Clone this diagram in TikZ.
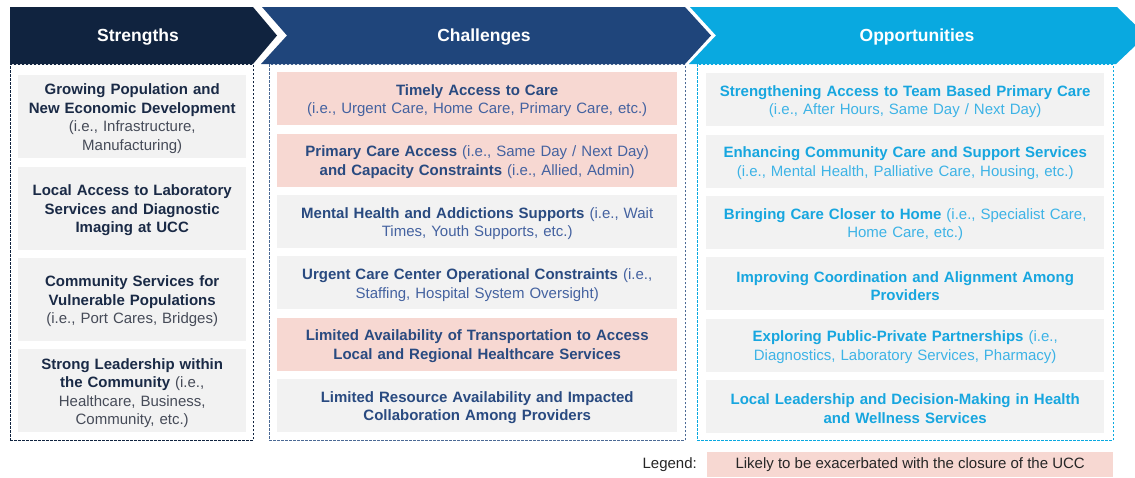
\documentclass[tikz,border=0pt]{standalone}
\usepackage{fontspec}
\setmainfont{Liberation Sans}
\usetikzlibrary{positioning}
\definecolor{navy}{HTML}{10233F}
\definecolor{royal}{HTML}{1F457B}
\definecolor{sky}{HTML}{09A9E0}
\definecolor{navytx}{HTML}{1A2A46}
\definecolor{royaltx}{HTML}{294A80}
\definecolor{royallt}{HTML}{4462A0}
\definecolor{skytx}{HTML}{17A6DF}
\definecolor{skylt}{HTML}{3DB3E6}
\definecolor{graytx}{HTML}{464B58}
\definecolor{legtx}{HTML}{262626}
\definecolor{cellgray}{HTML}{F2F2F2}
\definecolor{cellpink}{HTML}{F7D8D2}
\newcommand\subtxt[1]{{\mdseries\color{notetx}#1}}
\tikzset{
	swot/.style={
		x=1pt, y=-1pt,
		txt/.style={font=\fontsize{15}{18.5}\selectfont},
		node distance=8pt},
	hdr text/.style={text=white,font=\fontsize{17.5}{20}\selectfont\bfseries},
	col/.style={draw=#1,dash pattern=on 2.5pt off 1.5pt,line width=.9pt,
		anchor=north west,minimum height=376pt,inner sep=0pt},
	cell/.style={fill=cellgray,anchor=north west,
		inner xsep=0pt,inner ysep=0pt,align=center,
		font=\fontsize{15}{18.5}\selectfont\bfseries},
	cell S/.style={cell,text width=228pt,minimum height=83pt,text=navytx,
		execute at begin node={\colorlet{notetx}{graytx}\rule{0pt}{15pt}}},
	cell C/.style={cell,text width=400pt,minimum height=53pt,text=royaltx,
		execute at begin node={\colorlet{notetx}{royallt}\rule{0pt}{15pt}}},
	cell O/.style={cell,text width=398pt,minimum height=53pt,text=skytx,
		execute at begin node={\colorlet{notetx}{skylt}\rule{0pt}{15pt}}},
	hot/.style={fill=cellpink}
}

\begin{document}
\begin{tikzpicture}[swot]
\useasboundingbox (0,0) rectangle (1135,477);
% column frames
\node[col=navy,minimum width=243pt] (colS) at (10,64) {};
\node[col=royal!80,minimum width=416pt] (colC) at (269,64) {};
\node[col=sky,minimum width=416pt] (colO) at (697,64) {};
% chevrons
\fill[navy] (10,7) -- (253,7) -- (277,35.5) -- (253,64) -- (10,64) -- cycle;
\fill[royal] (262,7) -- (685,7) -- (711,35.5) -- (685,64) -- (261,64) -- (287,35.5) -- cycle;
\fill[sky] (690,7) -- (1117,7) -- (1146,35.5) -- (1116,64) -- (689,64) -- (716,35.5) -- cycle;
\node[hdr text] (hS) at (138,37) {Strengths};
\node[hdr text] (hC) at (484,37) {Challenges};
\node[hdr text] (hO) at (917,37) {Opportunities};
% strengths
\node[cell S] (s1) at (18,75) {Growing Population and\\New Economic Development\\\subtxt{(i.e., Infrastructure,\\Manufacturing)}};
\node[cell S,below=of s1] (s2) {Local Access to Laboratory\\Services and Diagnostic\\Imaging at UCC};
\node[cell S,below=of s2] (s3) {Community Services for\\Vulnerable Populations\\\subtxt{(i.e., Port Cares, Bridges)}};
\node[cell S,below=of s3] (s4) {Strong Leadership within\\the Community \subtxt{(i.e.,\\Healthcare, Business,\\Community, etc.)}};
% challenges
\node[cell C,hot] (c1) at (277,72) {Timely Access to Care\\\subtxt{(i.e., Urgent Care, Home Care, Primary Care, etc.)}};
\node[cell C,hot,below=of c1] (c2) {Primary Care Access \subtxt{(i.e., Same Day / Next Day)}\\and Capacity Constraints \subtxt{(i.e., Allied, Admin)}};
\node[cell C,below=of c2] (c3) {Mental Health and Addictions Supports \subtxt{(i.e., Wait\\Times, Youth Supports, etc.)}};
\node[cell C,below=of c3] (c4) {Urgent Care Center Operational Constraints \subtxt{(i.e.,\\Staffing, Hospital System Oversight)}};
\node[cell C,hot,below=of c4] (c5) {Limited Availability of Transportation to Access\\Local and Regional Healthcare Services};
\node[cell C,below=of c5] (c6) {Limited Resource Availability and Impacted\\Collaboration Among Providers};
% opportunities
\node[cell O] (o1) at (706,73) {Strengthening Access to Team Based Primary Care\\\subtxt{(i.e., After Hours, Same Day / Next Day)}};
\node[cell O,below=of o1] (o2) {Enhancing Community Care and Support Services\\\subtxt{(i.e., Mental Health, Palliative Care, Housing, etc.)}};
\node[cell O,below=of o2] (o3) {Bringing Care Closer to Home \subtxt{(i.e., Specialist Care,\\Home Care, etc.)}};
\node[cell O,below=of o3] (o4) {Improving Coordination and Alignment Among\\Providers};
\node[cell O,below=of o4] (o5) {Exploring Public-Private Partnerships \subtxt{(i.e.,\\Diagnostics, Laboratory Services, Pharmacy)}};
\node[cell O,below=of o5] (o6) {Local Leadership and Decision-Making in Health\\and Wellness Services};
% legend
\node[txt,fill=cellpink,text=legtx,anchor=north west,minimum width=406pt,minimum height=25pt,inner sep=0pt] (legBox) at (707,452) {Likely to be exacerbated with the closure of the UCC};
\node[txt,text=legtx,anchor=east,inner sep=0pt] (legKey) at (697,465) {Legend:};
\end{tikzpicture}
\end{document}
